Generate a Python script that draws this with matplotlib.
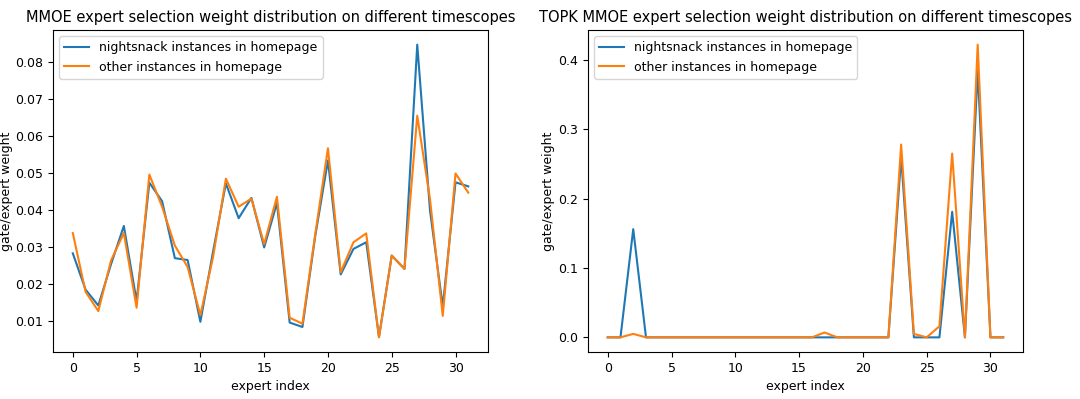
import matplotlib.pyplot as plt

experts = list(range(32))

# MMOE gate weights
mmoe_nightsnack = [0.0284, 0.0186, 0.0143, 0.0255, 0.0358, 0.0155, 0.0475, 0.0425,
                   0.0271, 0.0266, 0.0099, 0.0290, 0.0473, 0.0379, 0.0434, 0.0300,
                   0.0420, 0.0097, 0.0085, 0.0330, 0.0535, 0.0227, 0.0296, 0.0314,
                   0.0058, 0.0278, 0.0242, 0.0848, 0.0400, 0.0140, 0.0476, 0.0465]
mmoe_other = [0.0339, 0.0180, 0.0128, 0.0265, 0.0339, 0.0137, 0.0497, 0.0410,
              0.0305, 0.0247, 0.0117, 0.0275, 0.0486, 0.0410, 0.0432, 0.0309,
              0.0437, 0.0110, 0.0094, 0.0335, 0.0568, 0.0233, 0.0314, 0.0338,
              0.0057, 0.0278, 0.0242, 0.0656, 0.0430, 0.0115, 0.0500, 0.0448]

# TOPK MMOE gate weights
topk_nightsnack = [0, 0, 0.156, 0, 0, 0, 0, 0,
                   0, 0, 0, 0, 0, 0, 0, 0,
                   0, 0, 0, 0, 0, 0, 0, 0.26,
                   0, 0, 0, 0.181, 0, 0.385, 0, 0]
topk_other = [0, 0, 0.005, 0, 0, 0, 0, 0,
              0, 0, 0, 0, 0, 0, 0, 0,
              0, 0.007, 0, 0, 0, 0, 0, 0.278,
              0.005, 0, 0.016, 0.265, 0, 0.422, 0, 0]

labels = ["nightsnack instances in homepage", "other instances in homepage"]

fig = plt.figure(figsize=(10.8, 3.99), dpi=100)
ax1 = fig.add_axes([0.0491, 0.1178, 0.4028, 0.807])
ax2 = fig.add_axes([0.5444, 0.1178, 0.4028, 0.807])

panels = [
    (ax1, mmoe_nightsnack, mmoe_other,
     "MMOE expert selection weight distribution on different timescopes"),
    (ax2, topk_nightsnack, topk_other,
     "TOPK MMOE expert selection weight distribution on different timescopes"),
]

for ax, a, b, title in panels:
    ax.plot(experts, a, color="#1f77b4", label=labels[0])
    ax.plot(experts, b, color="#ff7f0e", label=labels[1])
    ax.set_title(title, fontsize=10.5)
    ax.set_xlabel("expert index", fontsize=9)
    ax.set_ylabel("gate/expert weight", fontsize=9, labelpad=2)
    ax.tick_params(labelsize=9)
    ax.legend(loc="upper left", fontsize=9)

fig.savefig("out.png", dpi=100)
